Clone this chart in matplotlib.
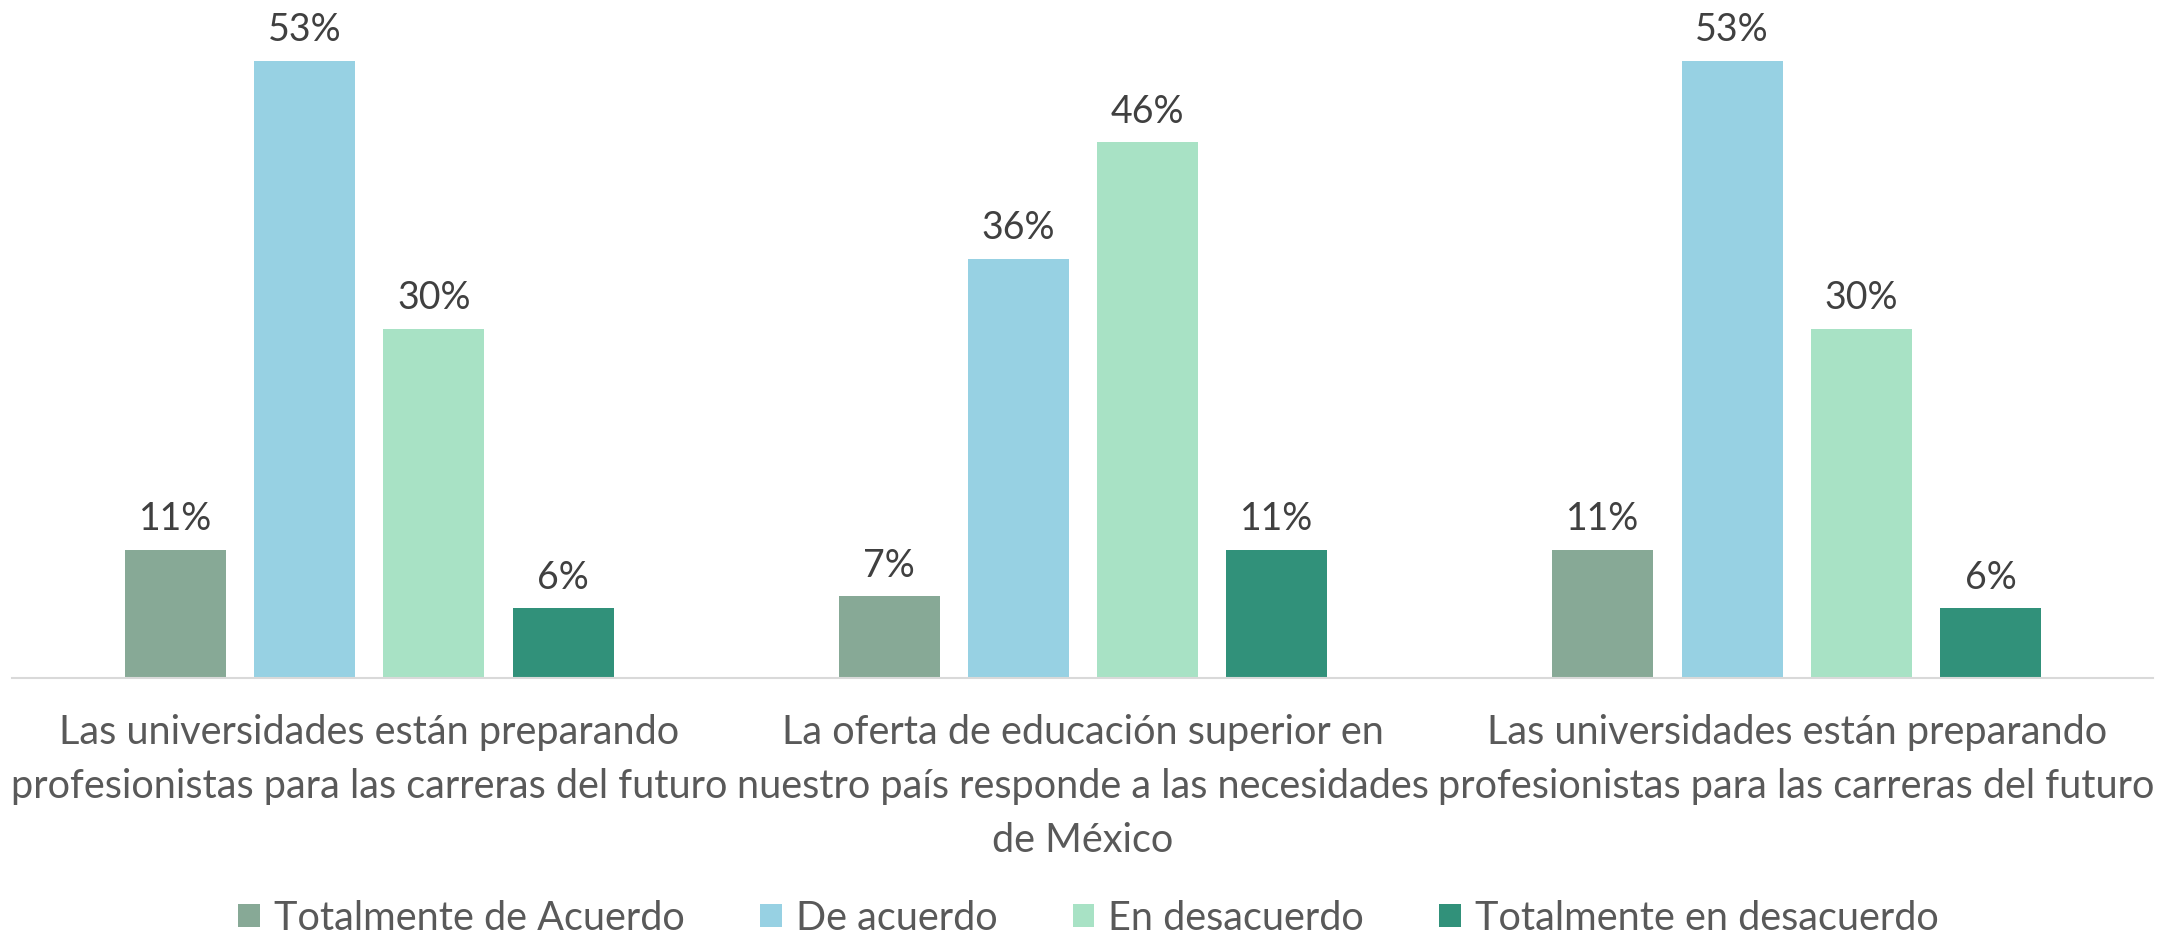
#!/usr/bin/env python3
"""Recreate grouped bar chart: opinion on universities / higher education."""

import numpy as np
import matplotlib

matplotlib.use("Agg")
import matplotlib.pyplot as plt
from matplotlib.patches import Patch

categories = [
    "Las universidades están preparando\nprofesionistas para las carreras del futuro",
    "La oferta de educación superior en\nnuestro país responde a las necesidades\nde México",
    "Las universidades están preparando\nprofesionistas para las carreras del futuro",
]
series_names = [
    "Totalmente de Acuerdo",
    "De acuerdo",
    "En desacuerdo",
    "Totalmente en desacuerdo",
]
totalmente_acuerdo = [11, 7, 11]
de_acuerdo = [53, 36, 53]
en_desacuerdo = [30, 46, 30]
totalmente_desacuerdo = [6, 11, 6]
series_values = [totalmente_acuerdo, de_acuerdo, en_desacuerdo, totalmente_desacuerdo]
colors = ["#87A996", "#97D1E3", "#A8E2C5", "#31917A"]

plt.rcParams["font.family"] = ["Lato", "DejaVu Sans"]

fig = plt.figure(figsize=(21.77, 9.41), dpi=100)
ax = fig.add_axes([0.0057, 0.2795, 0.9835, 0.7205])

x = np.arange(len(categories))
pitch = 0.181
width = 0.1415
for i, (vals, col) in enumerate(zip(series_values, colors)):
    offs = (i - 1.5) * pitch
    bars = ax.bar(x + offs, vals, width=width, color=col)
    for b, v in zip(bars, vals):
        ax.annotate(f"{v}%", (b.get_x() + b.get_width() / 2, v),
                    xytext=(0, 9), textcoords="offset points",
                    ha="center", va="bottom", fontsize=27, color="#404040")

ax.set_xlim(-0.5, 2.5)
ax.set_ylim(0, 58.2)
ax.set_xticks(x)
ax.set_xticklabels(categories, fontsize=28.5, color="#595959", linespacing=1.56)
ax.tick_params(axis="x", length=0, pad=26)
ax.set_yticks([])
for s in ["top", "right", "left"]:
    ax.spines[s].set_visible(False)
ax.spines["bottom"].set_color("#D9D9D9")
ax.spines["bottom"].set_linewidth(1.5)

handles = [Patch(facecolor=c, label=n) for c, n in zip(colors, series_names)]
fig.legend(handles=handles, loc="center", ncol=4, frameon=False,
           fontsize=28.5, labelcolor="#595959", bbox_to_anchor=(0.5, 0.0244),
           handlelength=0.55, handleheight=0.55, handletextpad=0.35,
           columnspacing=1.9)

fig.savefig("out.png", dpi=100)
